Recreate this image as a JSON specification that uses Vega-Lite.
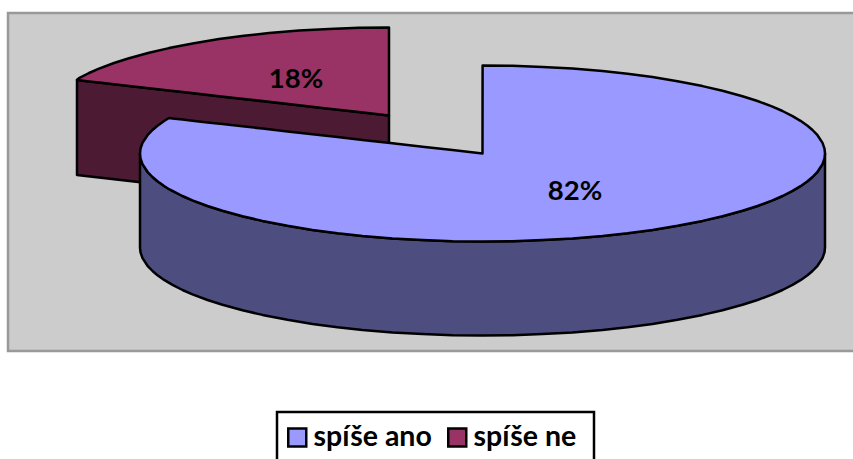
{
"$schema":"https://vega.github.io/schema/vega-lite/v6.json",
"width":853,"height":459,"padding":0,"autosize":{"type":"none"},"background":"white",
"config":{"view":{"stroke":null}},
"datasets":{
"panel":[{"x":8,"x2":870,"y":13,"y2":351}],
"legendBox":[{"x":277,"x2":594,"y":412,"y2":480}],
"smallWall":[{"x":77,"y":80,"y2":175},{"x":389,"y":115.5,"y2":210.5}],
"smallFace":[
{"slice":"spíše ne","x":77,"y":80,"y2":80},{"slice":"spíše ne","x":79,"y":78.1,"y2":80.2},{"slice":"spíše ne","x":89,"y":73,"y2":81.4},{"slice":"spíše ne","x":99,"y":68.7,"y2":82.5},{"slice":"spíše ne","x":114,"y":63,"y2":84.2},{"slice":"spíše ne","x":129,"y":58.2,"y2":85.9},{"slice":"spíše ne","x":149,"y":52.7,"y2":88.2},{"slice":"spíše ne","x":169,"y":48.1,"y2":90.5},{"slice":"spíše ne","x":194,"y":43.2,"y2":93.3},{"slice":"spíše ne","x":219,"y":39.1,"y2":96.2},{"slice":"spíše ne","x":244,"y":35.8,"y2":99},{"slice":"spíše ne","x":269,"y":33.1,"y2":101.8},{"slice":"spíše ne","x":299,"y":30.6,"y2":105.3},{"slice":"spíše ne","x":329,"y":28.9,"y2":108.7},{"slice":"spíše ne","x":359,"y":27.8,"y2":112.1},{"slice":"spíše ne","x":389,"y":27.5,"y2":115.5}],
"bigWall":[
{"x":140,"y":153.5,"y2":247.5},{"x":140.5,"y":158.3,"y2":252.3},{"x":142.5,"y":164.1,"y2":258.1},{"x":147.5,"y":171.8,"y2":265.8},{"x":152.5,"y":177,"y2":271},{"x":157.5,"y":181.3,"y2":275.3},{"x":164.5,"y":186.2,"y2":280.2},{"x":172.5,"y":190.9,"y2":284.9},{"x":182.5,"y":196,"y2":290},{"x":192.5,"y":200.3,"y2":294.3},{"x":207.5,"y":206,"y2":300},{"x":222.5,"y":210.8,"y2":304.8},{"x":242.5,"y":216.3,"y2":310.3},{"x":262.5,"y":220.9,"y2":314.9},{"x":287.5,"y":225.8,"y2":319.8},{"x":312.5,"y":229.9,"y2":323.9},{"x":337.5,"y":233.2,"y2":327.2},{"x":362.5,"y":235.9,"y2":329.9},{"x":392.5,"y":238.4,"y2":332.4},{"x":422.5,"y":240.1,"y2":334.1},{"x":452.5,"y":241.2,"y2":335.2},{"x":482.5,"y":241.5,"y2":335.5},{"x":512.5,"y":241.2,"y2":335.2},{"x":542.5,"y":240.1,"y2":334.1},{"x":572.5,"y":238.4,"y2":332.4},{"x":602.5,"y":235.9,"y2":329.9},{"x":627.5,"y":233.2,"y2":327.2},{"x":652.5,"y":229.9,"y2":323.9},{"x":677.5,"y":225.8,"y2":319.8},{"x":702.5,"y":220.9,"y2":314.9},{"x":722.5,"y":216.3,"y2":310.3},{"x":742.5,"y":210.8,"y2":304.8},{"x":757.5,"y":206,"y2":300},{"x":772.5,"y":200.3,"y2":294.3},{"x":782.5,"y":196,"y2":290},{"x":792.5,"y":190.9,"y2":284.9},{"x":800.5,"y":186.2,"y2":280.2},{"x":807.5,"y":181.3,"y2":275.3},{"x":812.5,"y":177,"y2":271},{"x":817.5,"y":171.8,"y2":265.8},{"x":822.5,"y":164.1,"y2":258.1},{"x":824.5,"y":158.3,"y2":252.3},{"x":825,"y":153.5,"y2":247.5}],
"bigFace":[
{"slice":"spíše ano","x":140,"y":153.5,"y2":153.5},{"slice":"spíše ano","x":140.5,"y":148.7,"y2":158.3},{"slice":"spíše ano","x":142.5,"y":142.9,"y2":164.1},{"slice":"spíše ano","x":147.5,"y":135.2,"y2":171.8},{"slice":"spíše ano","x":152.5,"y":130,"y2":177},{"slice":"spíše ano","x":157.5,"y":125.7,"y2":181.3},{"slice":"spíše ano","x":164.5,"y":120.8,"y2":186.2},{"slice":"spíše ano","x":169,"y":118,"y2":189.2},{"slice":"spíše ano","x":172.5,"y":118.4,"y2":190.9},{"slice":"spíše ano","x":182.5,"y":119.5,"y2":196},{"slice":"spíše ano","x":192.5,"y":120.7,"y2":200.3},{"slice":"spíše ano","x":207.5,"y":122.4,"y2":206},{"slice":"spíše ano","x":222.5,"y":124.1,"y2":210.8},{"slice":"spíše ano","x":242.5,"y":126.3,"y2":216.3},{"slice":"spíše ano","x":262.5,"y":128.6,"y2":220.9},{"slice":"spíše ano","x":287.5,"y":131.4,"y2":225.8},{"slice":"spíše ano","x":312.5,"y":134.2,"y2":229.9},{"slice":"spíše ano","x":337.5,"y":137,"y2":233.2},{"slice":"spíše ano","x":362.5,"y":139.9,"y2":235.9},{"slice":"spíše ano","x":392.5,"y":143.3,"y2":238.4},{"slice":"spíše ano","x":422.5,"y":146.7,"y2":240.1},{"slice":"spíše ano","x":452.5,"y":150.1,"y2":241.2},{"slice":"spíše ano","x":482.5,"y":153.5,"y2":241.5},{"slice":"spíše ano","x":482.6,"y":65.5,"y2":241.5},{"slice":"spíše ano","x":512.5,"y":65.8,"y2":241.2},{"slice":"spíše ano","x":542.5,"y":66.9,"y2":240.1},{"slice":"spíše ano","x":572.5,"y":68.6,"y2":238.4},{"slice":"spíše ano","x":602.5,"y":71.1,"y2":235.9},{"slice":"spíše ano","x":627.5,"y":73.8,"y2":233.2},{"slice":"spíše ano","x":652.5,"y":77.1,"y2":229.9},{"slice":"spíše ano","x":677.5,"y":81.2,"y2":225.8},{"slice":"spíše ano","x":702.5,"y":86.1,"y2":220.9},{"slice":"spíše ano","x":722.5,"y":90.7,"y2":216.3},{"slice":"spíše ano","x":742.5,"y":96.2,"y2":210.8},{"slice":"spíše ano","x":757.5,"y":101,"y2":206},{"slice":"spíše ano","x":772.5,"y":106.7,"y2":200.3},{"slice":"spíše ano","x":782.5,"y":111,"y2":196},{"slice":"spíše ano","x":792.5,"y":116.1,"y2":190.9},{"slice":"spíše ano","x":800.5,"y":120.8,"y2":186.2},{"slice":"spíše ano","x":807.5,"y":125.7,"y2":181.3},{"slice":"spíše ano","x":812.5,"y":130,"y2":177},{"slice":"spíše ano","x":817.5,"y":135.2,"y2":171.8},{"slice":"spíše ano","x":822.5,"y":142.9,"y2":164.1},{"slice":"spíše ano","x":824.5,"y":148.7,"y2":158.3},{"slice":"spíše ano","x":825,"y":153.5,"y2":153.5}],
"labels":[{"label":"18%","x":296,"y":80},{"label":"82%","x":575,"y":192}]
},
"layer":[
{"data":{"name":"panel"},"mark":{"type":"rect","fill":"#CCCCCC","stroke":"#999999","strokeWidth":2.5,"clip":true},
 "encoding":{"x":{"field":"x","type":"quantitative","scale":{"domain":[0,853],"nice":false,"zero":false},"axis":null},"x2":{"field":"x2"},"y":{"field":"y","type":"quantitative","scale":{"domain":[459,0],"nice":false,"zero":false},"axis":null},"y2":{"field":"y2"}}},
{"data":{"name":"legendBox"},"mark":{"type":"rect","fillOpacity":0,"stroke":"black","strokeWidth":2.5},
 "encoding":{"x":{"field":"x","type":"quantitative"},"x2":{"field":"x2"},"y":{"field":"y","type":"quantitative"},"y2":{"field":"y2"}}},
{"data":{"name":"smallWall"},"mark":{"type":"area","fill":"#4D1A33","stroke":"black","strokeWidth":2.5,"strokeJoin":"round"},
 "encoding":{"x":{"field":"x","type":"quantitative"},"y":{"field":"y","type":"quantitative"},"y2":{"field":"y2"}}},
{"data":{"name":"smallFace"},"mark":{"type":"area","stroke":"black","strokeWidth":2.5,"strokeJoin":"round"},
 "encoding":{"x":{"field":"x","type":"quantitative"},"y":{"field":"y","type":"quantitative"},"y2":{"field":"y2"},
 "color":{"field":"slice","type":"nominal","scale":{"domain":["spíše ano","spíše ne"],"range":["#9999FF","#993366"]},
 "legend":{"title":null,"orient":"none","legendX":283,"legendY":423,"direction":"horizontal","columns":2,"padding":0,"symbolType":"square","symbolSize":324,"symbolStrokeColor":"black","symbolStrokeWidth":2.5,"symbolOpacity":1,"labelFont":"Lato","labelFontWeight":"bold","labelFontSize":28.5,"labelColor":"black","labelOffset":2,"columnPadding":11,"labelLimit":200}}}},
{"data":{"name":"bigWall"},"mark":{"type":"area","fill":"#4D4D80","stroke":"black","strokeWidth":2.5,"strokeJoin":"round"},
 "encoding":{"x":{"field":"x","type":"quantitative"},"y":{"field":"y","type":"quantitative"},"y2":{"field":"y2"}}},
{"data":{"name":"bigFace"},"mark":{"type":"area","stroke":"black","strokeWidth":2.5,"strokeJoin":"round"},
 "encoding":{"x":{"field":"x","type":"quantitative"},"y":{"field":"y","type":"quantitative"},"y2":{"field":"y2"},
 "color":{"field":"slice","type":"nominal"}}},
{"data":{"name":"labels"},"mark":{"type":"text","font":"Lato","fontWeight":"bold","fontSize":27.5,"color":"black","align":"center","baseline":"middle"},
 "encoding":{"x":{"field":"x","type":"quantitative"},"y":{"field":"y","type":"quantitative"},"text":{"field":"label"}}}
]
}
